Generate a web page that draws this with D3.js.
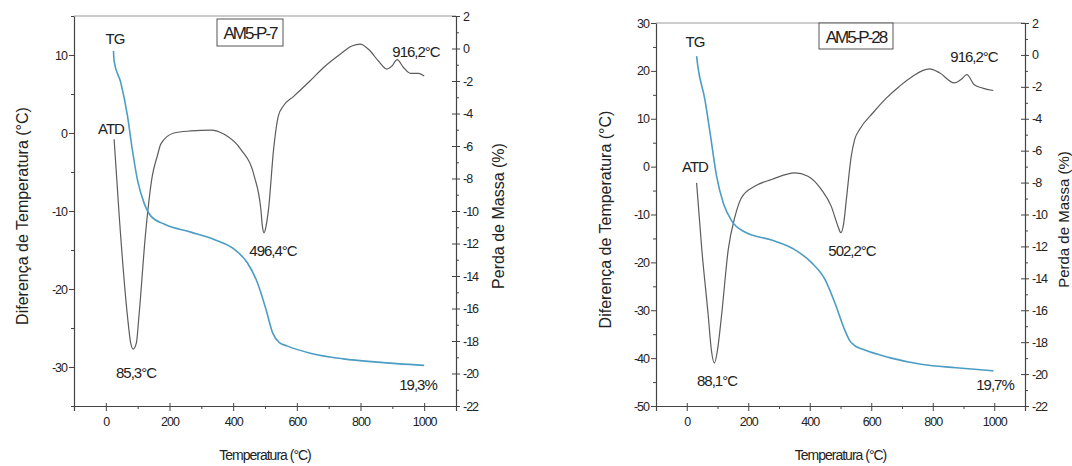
<!DOCTYPE html>
<html>
<head>
<meta charset="utf-8">
<script src="https://cdn.jsdelivr.net/npm/d3@7/dist/d3.min.js"></script>
<style>
  html, body { margin: 0; padding: 0; background: #fff; }
  svg { display: block; }
  text { font-family: "Liberation Sans", Arial, sans-serif; fill: #222; }
</style>
</head>
<body>
<svg id="chart" width="1072" height="466"></svg>
<script>
// ---------------- DATA ----------------
// Panel 1: AM5-P-7
const titleP7 = "AM5-P-7";
const atdTempP7 = [26, 42, 68, 78, 86, 96, 104, 125, 146, 162, 173, 214, 267, 330, 372, 424, 466, 487, 492, 497, 503, 511, 527, 542, 558, 590, 642, 684, 736, 773, 799, 826, 857, 883, 899, 915, 935, 957, 983, 1000];
const atdValP7  = [-0.8, -10.6, -23.5, -26.9, -27.7, -26.9, -23.5, -12.8, -5.5, -2.9, -1.4, 0.0, 0.26, 0.38, -0.17, -2.1, -5.5, -9.8, -12.0, -12.8, -12.0, -9.8, -2.1, 2.2, 3.5, 4.7, 6.7, 8.4, 10.1, 11.15, 11.4, 10.7, 9.2, 8.2, 8.6, 9.4, 8.4, 7.65, 7.65, 7.3];
const tgTempP7  = [24, 26, 47, 68, 83, 99, 120, 141, 183, 267, 340, 403, 445, 476, 503, 524, 545, 569, 642, 747, 852, 1000];
const tgValP7   = [-0.15, -0.77, -2.1, -4.15, -6.2, -8.05, -9.5, -10.3, -10.8, -11.3, -11.75, -12.35, -13.2, -14.4, -16.05, -17.5, -18.1, -18.3, -18.75, -19.1, -19.3, -19.5];
const peakLabelsP7 = ["85,3°C", "496,4°C", "916,2°C", "19,3%"];

// Panel 2: AM5-P-28
const titleP28 = "AM5-P-28";
const atdTempP28 = [32, 49, 70, 80, 90, 100, 113, 135, 157, 178, 221, 276, 351, 394, 438, 470, 492, 501, 510, 519, 535, 546, 562, 605, 649, 692, 735, 789, 822, 870, 892, 911, 935, 962, 997];
const atdValP28  = [-3.4, -17.3, -31.2, -38.3, -41.0, -38.3, -31.2, -17.3, -10.4, -6.5, -4.1, -2.7, -1.3, -2.0, -4.8, -8.3, -12.5, -13.8, -12.0, -6.9, 2.2, 5.65, 7.75, 11.2, 14.3, 16.8, 18.9, 20.4, 19.6, 17.5, 18.2, 19.2, 17.1, 16.4, 15.9];
const tgTempP28  = [32, 36, 59, 76, 97, 119, 146, 189, 276, 351, 405, 449, 481, 513, 530, 545, 573, 659, 767, 876, 997];
const tgValP28   = [-0.07, -0.7, -2.8, -4.9, -7.6, -9.3, -10.4, -11.1, -11.6, -12.2, -13.0, -14.05, -15.5, -17.2, -17.9, -18.2, -18.45, -18.97, -19.4, -19.6, -19.8];
const peakLabelsP28 = ["88,1°C", "502,2°C", "916,2°C", "19,7%"];

// Axes
const xTicks = [0, 200, 400, 600, 800, 1000];
const xMinorTicks = [-100, 100, 300, 500, 700, 900, 1100];
const yLeftTicksP7 = [-30, -20, -10, 0, 10];
const yLeftTicksP28 = [-50, -40, -30, -20, -10, 0, 10, 20, 30];
const yRightTicks = [-22, -20, -18, -16, -14, -12, -10, -8, -6, -4, -2, 0, 2];
const seriesNames = ["TG", "ATD"];
const xTitle = "Temperatura (°C)";
const yLeftTitle = "Diferença de Temperatura (°C)";
const yRightTitle = "Perda de Massa (%)";

// ---------------- DRAW ----------------
const svg = d3.select("#chart");
const fmt = v => String(v);

function drawPanel(cfg) {
  const g = svg.append("g");
  const x = d3.scaleLinear().domain([-100, 1100]).range([cfg.left, cfg.right]);
  const yL = d3.scaleLinear().domain(cfg.yLDomain).range([cfg.bottom, cfg.top]);
  const yR = d3.scaleLinear().domain([-22, 2]).range([cfg.bottom, cfg.top]);

  // top frame line
  g.append("line").attr("x1", cfg.left).attr("x2", cfg.right)
    .attr("y1", cfg.top).attr("y2", cfg.top)
    .attr("stroke", "#9a9a9a").attr("stroke-width", 1);

  // Bottom axis
  const xAx = d3.axisBottom(x).tickValues(xTicks).tickFormat(fmt).tickSize(5).tickPadding(6);
  const gx = g.append("g").attr("transform", `translate(0,${cfg.bottom})`).call(xAx);
  gx.selectAll(".tick line").attr("y1", -3);
  const gxm = g.append("g").attr("transform", `translate(0,${cfg.bottom})`)
    .call(d3.axisBottom(x).tickValues(xMinorTicks).tickFormat("").tickSize(3).tickSizeOuter(0));
  gxm.select(".domain").remove();

  // Left axis
  const yLAx = d3.axisLeft(yL).tickValues(cfg.yLTicks).tickFormat(fmt).tickSize(5).tickPadding(2).tickSizeOuter(0);
  const gyl = g.append("g").attr("transform", `translate(${cfg.left},0)`).call(yLAx);
  const gylm = g.append("g").attr("transform", `translate(${cfg.left},0)`)
    .call(d3.axisLeft(yL).tickValues(cfg.yLMinor).tickFormat("").tickSize(3).tickSizeOuter(0));
  gylm.select(".domain").remove();

  // Right axis
  const yRAx = d3.axisRight(yR).tickValues(yRightTicks).tickFormat(fmt).tickSize(4).tickPadding(3).tickSizeOuter(0);
  const gyr = g.append("g").attr("transform", `translate(${cfg.right},0)`).call(yRAx);
  gyr.selectAll(".tick line").attr("x1", -4);
  const yRMinor = d3.range(-21, 2, 2);
  const gyrm = g.append("g").attr("transform", `translate(${cfg.right},0)`)
    .call(d3.axisRight(yR).tickValues(yRMinor).tickFormat("").tickSize(3).tickSizeOuter(0));
  gyrm.select(".domain").remove();

  [gx, gxm, gyl, gylm, gyr, gyrm].forEach(a => {
    a.selectAll("path.domain").attr("stroke", "#444").attr("stroke-width", 1.2);
    a.selectAll(".tick line").attr("stroke", "#444").attr("stroke-width", 1);
    a.selectAll(".tick text")
      .style("font-family", '"Liberation Sans", Arial, sans-serif')
      .style("font-size", "12.5px").style("letter-spacing", "-1px").attr("fill", "#222");
  });

  // Lines
  const lineATD = d3.line().x(d => x(d[0])).y(d => yL(d[1])).curve(d3.curveMonotoneX);
  const lineTG = d3.line().x(d => x(d[0])).y(d => yR(d[1])).curve(d3.curveMonotoneX);
  const atd = cfg.atdT.map((t, i) => [t, cfg.atdV[i]]);
  const tg = cfg.tgT.map((t, i) => [t, cfg.tgV[i]]);
  g.append("path").datum(atd).attr("d", lineATD).attr("fill", "none")
    .attr("stroke", "#5c5c5c").attr("stroke-width", 1.2);
  g.append("path").datum(tg).attr("d", lineTG).attr("fill", "none")
    .attr("stroke", "#4c9dc4").attr("stroke-width", 1.6);

  const annStyle = sel => sel.style("font-size", "15px").style("letter-spacing", "-1px").attr("text-anchor", "middle").attr("dominant-baseline", "central");

  // Series labels
  g.append("text").attr("x", cfg.tgLbl[0]).attr("y", cfg.tgLbl[1]).text(seriesNames[0]).call(annStyle);
  g.append("text").attr("x", cfg.atdLbl[0]).attr("y", cfg.atdLbl[1]).text(seriesNames[1]).call(annStyle);

  // Peak labels
  cfg.peaks.forEach((p, i) => {
    g.append("text").attr("x", p[0]).attr("y", p[1]).text(cfg.peakText[i]).call(annStyle);
  });

  // Title box
  g.append("rect").attr("x", cfg.box[0]).attr("y", cfg.box[1]).attr("width", cfg.box[2]).attr("height", cfg.box[3])
    .attr("fill", "#fff").attr("stroke", "#555").attr("stroke-width", 1);
  g.append("text").attr("x", cfg.box[0] + cfg.box[2] / 2).attr("y", cfg.box[1] + cfg.box[3] / 2 + 1)
    .text(cfg.title).attr("text-anchor", "middle").attr("dominant-baseline", "central")
    .style("font-size", "17px").style("letter-spacing", "-2px");

  // Axis titles
  const midY = (cfg.top + cfg.bottom) / 2;
  g.append("text").attr("transform", `translate(${cfg.yLTitleX},${midY + 5}) rotate(-90)`)
    .attr("text-anchor", "middle").attr("dominant-baseline", "central")
    .style("font-size", "16px").text(yLeftTitle);
  g.append("text").attr("transform", `translate(${cfg.yRTitleX},${midY + 5}) rotate(-90)`)
    .attr("text-anchor", "middle").attr("dominant-baseline", "central")
    .style("font-size", cfg.yRTitleSize).text(yRightTitle);
  g.append("text").attr("x", x(500)).attr("y", 455)
    .attr("text-anchor", "middle").attr("dominant-baseline", "central")
    .style("font-size", "14px").style("letter-spacing", "-1px").text(xTitle);
}

drawPanel({
  left: 74, right: 456, top: 16, bottom: 406,
  yLDomain: [-35, 15], yLTicks: yLeftTicksP7, yLMinor: [-35, -25, -15, -5, 5, 15],
  atdT: atdTempP7, atdV: atdValP7, tgT: tgTempP7, tgV: tgValP7,
  tgLbl: [115, 38], atdLbl: [111, 128],
  peaks: [[136, 372], [273, 250], [416, 51], [418, 384]], peakText: peakLabelsP7,
  box: [217, 19, 66, 27], title: titleP7, yLTitleX: 22, yRTitleX: 498, yRTitleSize: "16px"
});

drawPanel({
  left: 656, right: 1025, top: 23, bottom: 406,
  yLDomain: [-50, 30], yLTicks: yLeftTicksP28, yLMinor: [-45, -35, -25, -15, -5, 5, 15, 25],
  atdT: atdTempP28, atdV: atdValP28, tgT: tgTempP28, tgV: tgValP28,
  tgLbl: [695, 41], atdLbl: [695, 166],
  peaks: [[717, 380], [852, 250], [974, 56], [995, 384]], peakText: peakLabelsP28,
  box: [819, 23, 74, 26], title: titleP28, yLTitleX: 605, yRTitleX: 1063, yRTitleSize: "15px"
});
</script>
</body>
</html>
